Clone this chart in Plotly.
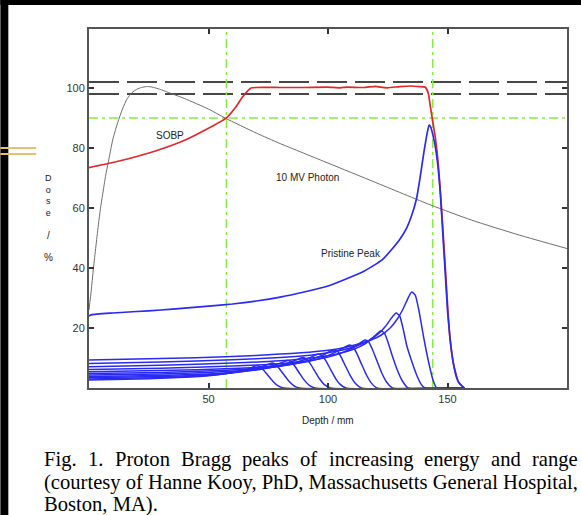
import plotly.graph_objects as go

# ---------------- data ----------------
photon_depth = [0, 1, 2, 3, 4, 5, 6, 7, 8, 10, 12, 14, 16, 18, 20, 22, 24, 26, 28, 30, 35, 40, 50, 57, 70, 80, 100, 120, 143, 160, 180, 200]
photon_dose = [26, 33, 41, 48, 55, 61, 66, 71, 75, 83, 88.5, 93, 96.5, 98.5, 99.6, 100.2, 100.5, 100.4, 100, 99.5, 98, 96.5, 93, 90, 85, 81.5, 75, 68.5, 61, 56, 51, 46.5]

sobp_depth = [0, 10, 20, 30, 40, 49, 57.4, 61.5, 64.3, 67.8, 70, 80, 90, 100, 105, 108, 115, 120, 122, 125, 130, 135, 138, 140.7, 142, 142.8, 143.8, 145, 146.2, 147.4, 148.8, 150, 151, 152.5, 154.6, 157]
sobp_dose = [73.5, 75.2, 77.2, 79.6, 82.6, 86.2, 90, 93.8, 97.1, 100, 100.2, 100.2, 100.2, 100.3, 100.1, 100.3, 100.2, 100.6, 100.3, 100.1, 100.5, 100.7, 100.5, 100.3, 98.2, 94, 89, 83, 74, 61, 44, 28, 17, 8, 2, 0]

pristine_depth = [0, 1, 10, 20, 30, 40, 50, 60, 70, 80, 90, 100, 108, 114, 119, 123, 127, 130, 133, 135, 137, 138.5, 140, 141.5, 142.3, 143, 144, 145, 146, 147, 148, 149, 150, 151, 152, 153, 154, 155, 157]
pristine_dose = [24, 24.4, 25, 25.5, 26, 26.6, 27.3, 28, 29, 30.3, 32, 34, 36.5, 38.5, 40.8, 43, 46.5, 49.5, 53.5, 57.5, 63, 70, 78, 85, 87.7, 87, 84, 80, 74, 65, 52, 39, 26, 17, 10.5, 6, 3, 1.5, 0]

# smaller pristine peaks (shallower ranges)
peak11_depth = [0, 30, 60, 80, 95, 105, 112, 118, 122, 126, 129, 131.5, 133.5, 135, 136.5, 138, 140, 142, 144, 145.5, 157]
peak11_dose = [9.3, 9.8, 10.5, 11.3, 12.2, 13.2, 14.5, 16, 17.5, 20, 23, 26.5, 30, 32, 31, 26, 17, 9, 2.5, 0, 0]
peak10_depth = [0, 30, 60, 80, 95, 105, 112, 117, 121, 124, 126.5, 128.5, 130, 131.5, 133, 135, 137, 139, 140.5, 157]
peak10_dose = [8.2, 8.7, 9.4, 10.2, 11.2, 12.5, 14, 15.8, 18, 20.5, 23.3, 25, 24, 19.5, 14, 9, 4.5, 1.2, 0, 0]
peak9_depth = [0, 30, 60, 80, 95, 105, 111, 115.5, 119, 122, 123.5, 125, 127, 129, 131, 133.5, 157]
peak9_dose = [7.1, 7.6, 8.3, 9.1, 10.2, 11.6, 13, 14.7, 17, 19, 18.4, 15.5, 10.5, 6, 2.5, 0, 0]
peak8_depth = [0, 30, 60, 80, 92, 100, 106, 110.5, 113.5, 115.5, 117, 118.5, 120.5, 122.5, 124.5, 127, 157]
peak8_dose = [6.2, 6.6, 7.3, 8.1, 9.1, 10.3, 11.8, 13.5, 15, 16, 15.4, 13, 9, 5, 2, 0, 0]
peak7_depth = [0, 30, 60, 78, 88, 95, 100, 104, 107, 109, 110.5, 112, 114, 116, 118, 120.5, 157]
peak7_dose = [5.4, 5.8, 6.5, 7.3, 8.3, 9.5, 10.8, 12.3, 13.6, 14.3, 13.7, 11.6, 8, 4.5, 1.8, 0, 0]
peak6_depth = [0, 30, 55, 72, 82, 89, 94, 98, 100.5, 102.5, 104, 105.5, 107.5, 109.5, 111.5, 114, 157]
peak6_dose = [4.8, 5.2, 5.8, 6.6, 7.5, 8.6, 9.8, 11, 12.1, 12.7, 12.2, 10.3, 7, 3.9, 1.5, 0, 0]
peak5_depth = [0, 30, 50, 66, 76, 83, 88, 92, 94.5, 96, 97.5, 99, 101, 103, 105, 107.5, 157]
peak5_dose = [4.3, 4.7, 5.2, 5.9, 6.8, 7.8, 8.9, 10, 10.9, 11.3, 10.8, 9.2, 6.3, 3.4, 1.3, 0, 0]
peak4_depth = [0, 30, 50, 62, 71, 77, 82, 86, 88, 89.5, 91, 92.5, 94.5, 96.5, 98.5, 101, 157]
peak4_dose = [3.8, 4.2, 4.7, 5.3, 6.1, 7, 8, 9.1, 9.8, 10.2, 9.7, 8.2, 5.6, 3, 1.1, 0, 0]
peak3_depth = [0, 30, 48, 58, 65, 71, 76, 80, 82, 83, 84.5, 86, 88, 90, 92, 94.5, 157]
peak3_dose = [3.4, 3.8, 4.3, 4.9, 5.6, 6.4, 7.3, 8.3, 8.9, 9.2, 8.8, 7.4, 5, 2.7, 1, 0, 0]
peak2_depth = [0, 28, 45, 54, 60, 65, 70, 73.5, 75.5, 76.5, 78, 79.5, 81.5, 83.5, 85.5, 88, 157]
peak2_dose = [3.0, 3.4, 3.9, 4.5, 5.1, 5.8, 6.6, 7.5, 8, 8.3, 7.9, 6.6, 4.5, 2.4, 0.9, 0, 0]
peak1_depth = [0, 25, 40, 50, 56, 61, 65, 68, 69, 70, 71.5, 73, 75, 77, 79, 81.5, 157]
peak1_dose = [2.7, 3.1, 3.6, 4.1, 4.7, 5.3, 6, 6.8, 7.2, 7.5, 7.1, 6, 4.1, 2.2, 0.8, 0, 0]

small_peaks = [
    (peak1_depth, peak1_dose), (peak2_depth, peak2_dose), (peak3_depth, peak3_dose),
    (peak4_depth, peak4_dose), (peak5_depth, peak5_dose), (peak6_depth, peak6_dose),
    (peak7_depth, peak7_dose), (peak8_depth, peak8_dose), (peak9_depth, peak9_dose),
    (peak10_depth, peak10_dose), (peak11_depth, peak11_dose),
]

plateau_levels = [102, 98]
level_90 = 90
range_markers = [57.5, 143.8]

x_ticks = [50, 100, 150]
y_ticks = [20, 40, 60, 80, 100]

caption_line1 = ["Fig.", "1.", "Proton", "Bragg", "peaks", "of", "increasing", "energy", "and", "range"]
caption_line2 = "(courtesy of Hanne Kooy, PhD, Massachusetts General Hospital,"
caption_line3 = "Boston, MA)."

# ---------------- figure ----------------
W, H = 581, 515
ML, MR, MT, MB = 89, 12, 29, 127
PW, PH = W - ML - MR, H - MT - MB
X0, X1, Y0, Y1 = 0, 200, 0, 119.7


def px_x(px):
    return (px - ML) / PW


def px_y(py):
    return (H - MB - py) / PH


fig = go.Figure()

BLUE = "#2a2af5"
GREEN = "#84f03a"
DASHDOT = "9px,4px,3px,4px"

# dashed plateau lines
for lv in plateau_levels:
    fig.add_trace(go.Scatter(x=[X0, X1], y=[lv, lv], mode="lines",
                             line=dict(color="#474747", width=2, dash="30px,8px"),
                             hoverinfo="skip"))
# green dash-dot guides
fig.add_trace(go.Scatter(x=[X0, X1], y=[level_90, level_90], mode="lines",
                         line=dict(color=GREEN, width=1.5, dash=DASHDOT), hoverinfo="skip"))
for rm in range_markers:
    fig.add_trace(go.Scatter(x=[rm, rm], y=[Y0, Y1], mode="lines",
                             line=dict(color=GREEN, width=1.5, dash=DASHDOT), hoverinfo="skip"))

# photon
fig.add_trace(go.Scatter(x=photon_depth, y=photon_dose, mode="lines",
                         line=dict(color="#6e6e6e", width=1, shape="spline", smoothing=0.6)))
# SOBP
fig.add_trace(go.Scatter(x=sobp_depth, y=sobp_dose, mode="lines",
                         line=dict(color="#e0282a", width=1.7, shape="spline", smoothing=0.4)))
# small peaks
for d, v in small_peaks:
    fig.add_trace(go.Scatter(x=d, y=v, mode="lines",
                             line=dict(color=BLUE, width=1.5, shape="spline", smoothing=0.5)))
# pristine peak
fig.add_trace(go.Scatter(x=pristine_depth, y=pristine_dose, mode="lines",
                         line=dict(color=BLUE, width=1.7, shape="spline", smoothing=0.5)))

axis_common = dict(showgrid=False, zeroline=False, showline=True, linecolor="#555555", linewidth=2,
                   mirror="ticks", ticks="inside", ticklen=5, tickwidth=1.5, tickcolor="#333333",
                   tickfont=dict(family="Liberation Sans, Arial", size=11, color="#333333"))

fig.update_layout(
    width=W, height=H, showlegend=False,
    margin=dict(l=ML, r=MR, t=MT, b=MB, pad=0),
    paper_bgcolor="white", plot_bgcolor="white",
    xaxis=dict(range=[X0, X1], tickvals=x_ticks, ticktext=[str(t) for t in x_ticks], **axis_common),
    yaxis=dict(range=[Y0, Y1], tickvals=y_ticks, ticktext=[str(t) for t in y_ticks], **axis_common),
)

shapes = [
    # slide borders
    dict(type="rect", xref="paper", yref="paper", x0=px_x(0), x1=px_x(8), y0=px_y(H), y1=px_y(-20),
         fillcolor="black", line=dict(width=0), layer="above"),
    dict(type="rect", xref="paper", yref="paper", x0=px_x(0), x1=px_x(W + 10), y0=px_y(5), y1=px_y(-20),
         fillcolor="black", line=dict(width=0), layer="above"),
    dict(type="line", xref="paper", yref="paper", x0=px_x(0), x1=px_x(36), y0=px_y(148), y1=px_y(148),
         line=dict(color="#e8c070", width=2), layer="above"),
    dict(type="line", xref="paper", yref="paper", x0=px_x(0), x1=px_x(36), y0=px_y(154), y1=px_y(154),
         line=dict(color="#e8c070", width=2), layer="above"),
]
fig.update_layout(shapes=shapes)


def note(text, x, y, size=10, color="#222222", family="Liberation Sans, Arial", xanchor="center"):
    return dict(text=text, x=px_x(x), y=px_y(y), xref="paper", yref="paper", showarrow=False,
                xanchor=xanchor, yanchor="middle", font=dict(family=family, size=size, color=color))


ann = [
    note("SOBP", 170, 135.5),
    note("10 MV Photon", 308, 177),
    note("Pristine Peak", 352, 253),
    note("Depth / mm", 329, 420),
    note("D<br>o<br>s<br>e", 48, 195, size=9),
    note("/", 48, 235),
    note("%", 48, 257),
]

CAP = "Liberation Serif, Times New Roman"
cap_x = [42, 86.0, 112.8, 179.1, 240.8, 299.1, 327.6, 423.7, 491.1, 532.3]
for w, xx in zip(caption_line1, cap_x):
    ann.append(note(w, xx, 459, size=20.6, color="black", family=CAP, xanchor="left"))
ann.append(note(caption_line2, 42, 482, size=20.6, color="black", family=CAP, xanchor="left"))
ann.append(note(caption_line3, 42, 504.5, size=20.6, color="black", family=CAP, xanchor="left"))
fig.update_layout(annotations=ann)

fig.write_html("out.html", config={"displayModeBar": False},
               post_script="document.body.style.margin='0px';document.body.style.overflow='hidden';")
